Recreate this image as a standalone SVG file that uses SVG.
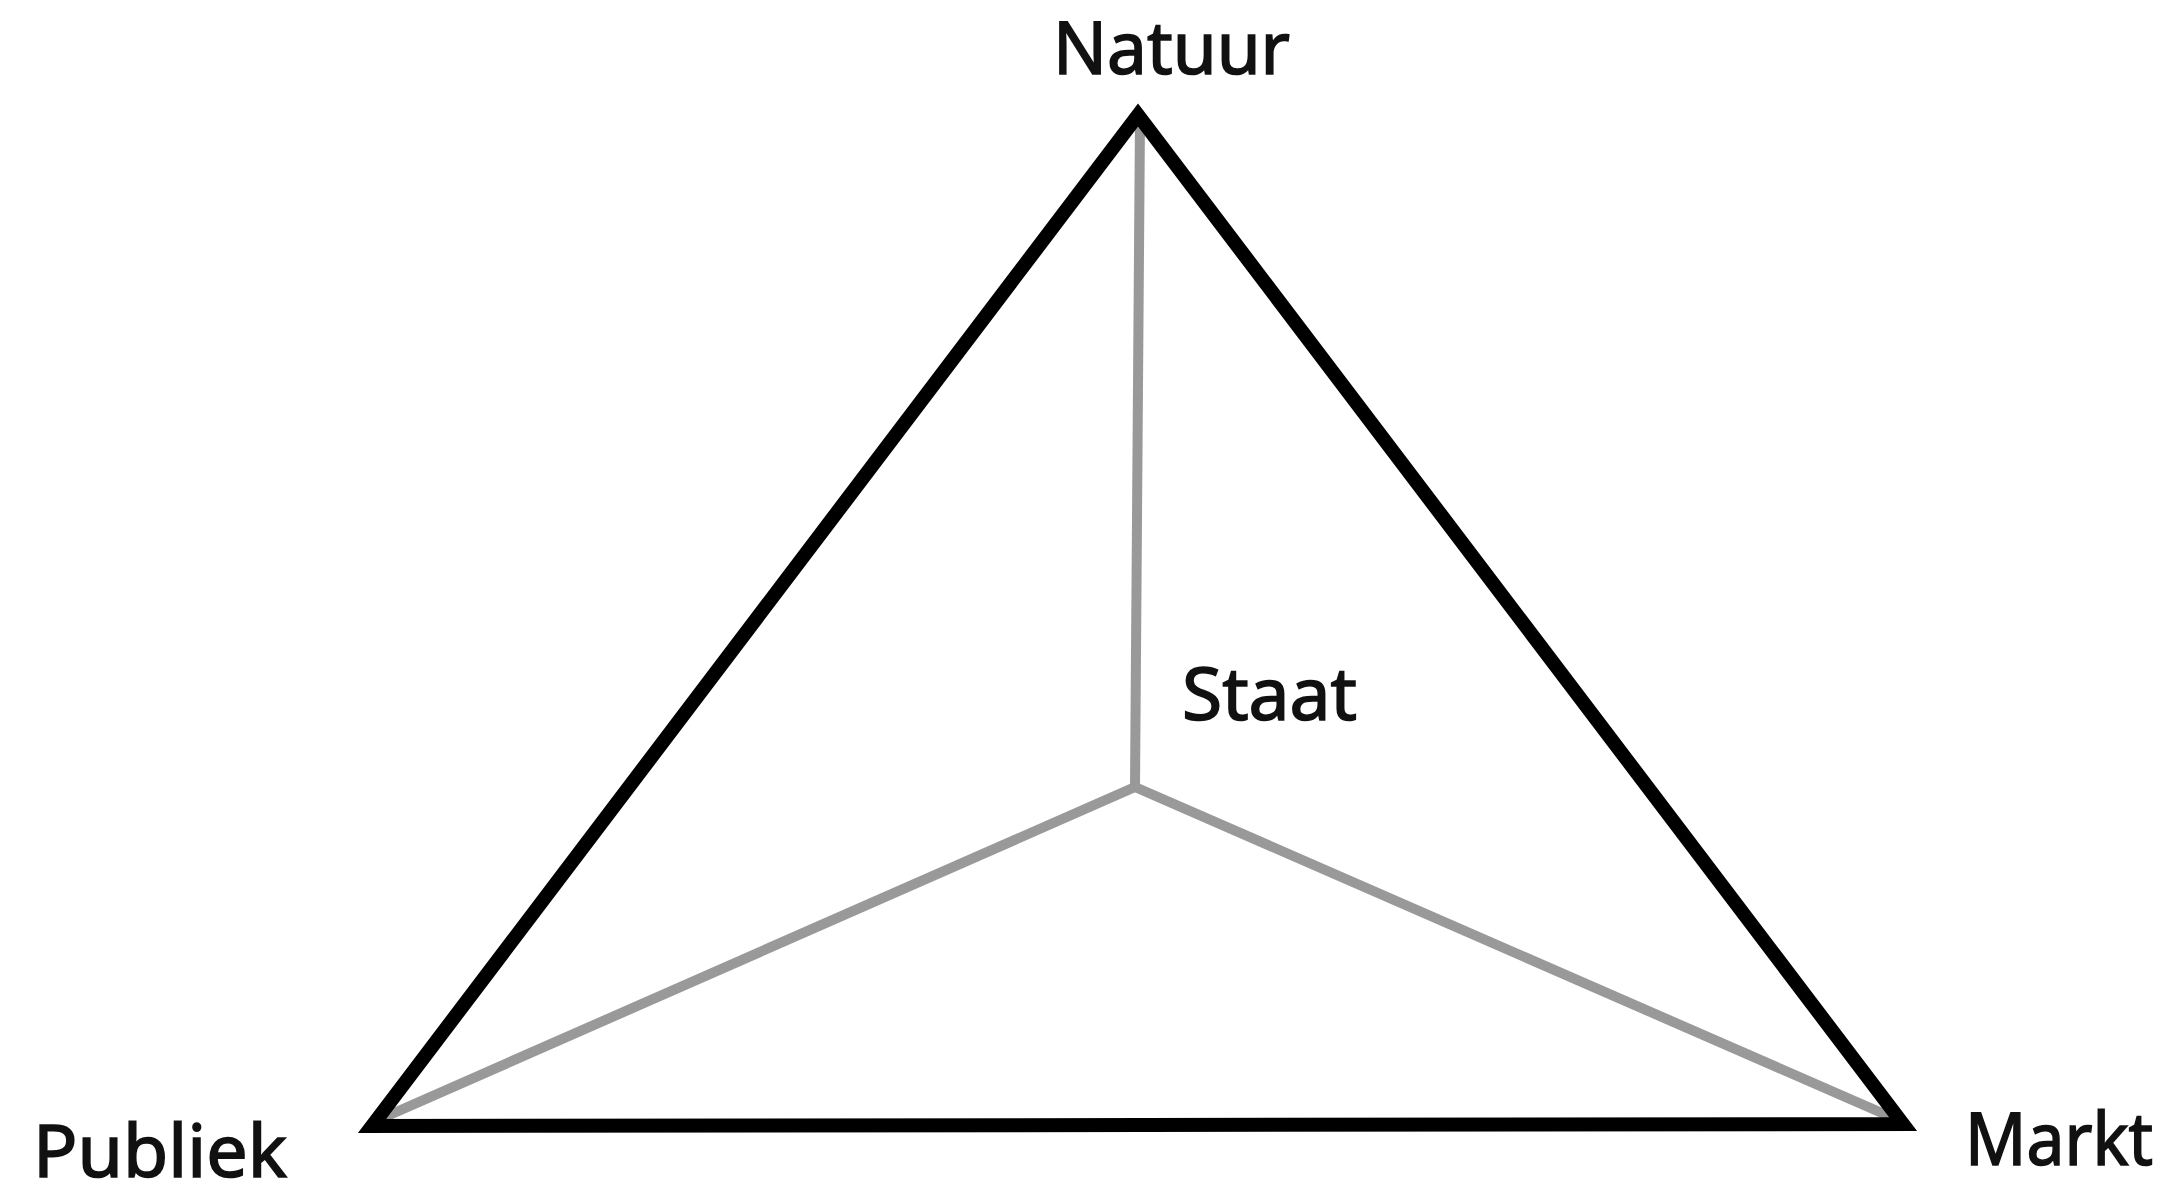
<svg xmlns="http://www.w3.org/2000/svg" width="2177" height="1197" viewBox="0 0 2177 1197">
<style>
.lbl{font-family:"Noto Sans","Open Sans",sans-serif;font-size:73px;fill:#111;stroke:#111;stroke-width:1.6}
.edge{fill:none;stroke:#000;stroke-width:14;stroke-linejoin:miter}
.spoke{fill:none;stroke:#999;stroke-width:10;stroke-linecap:butt}
</style>
<rect width="2177" height="1197" fill="#fff"/>
<g id="connectors">
<line class="spoke" x1="1140" y1="118" x2="1135" y2="787"/>
<line class="spoke" x1="1135" y1="787" x2="378" y2="1120"/>
<line class="spoke" x1="1135" y1="787" x2="1898" y2="1120"/>
<polygon class="edge" points="1138,115 1903,1124 372,1126"/>
</g>
<g id="natuur"><text class="lbl" x="1053" y="74" textLength="237" lengthAdjust="spacingAndGlyphs">Natuur</text></g>
<g id="publiek"><text class="lbl" x="33" y="1177" textLength="254" lengthAdjust="spacingAndGlyphs">Publiek</text></g>
<g id="markt"><text class="lbl" x="1965" y="1165" textLength="188" lengthAdjust="spacingAndGlyphs">Markt</text></g>
<g id="staat"><text class="lbl" x="1182" y="720" textLength="175" lengthAdjust="spacingAndGlyphs">Staat</text></g>
</svg>
